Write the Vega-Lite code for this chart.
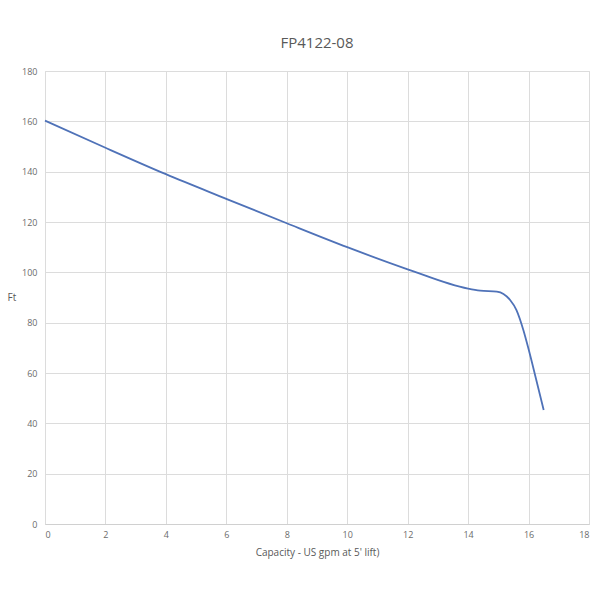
{
  "$schema": "https://vega.github.io/schema/vega-lite/v6.json",
  "autosize": "none",
  "width": 544,
  "height": 453,
  "padding": {"left": 45, "top": 71, "right": 11, "bottom": 76},
  "background": "white",
  "title": {"text": "FP4122-08", "font": "Open Sans", "fontSize": 15, "fontWeight": "normal", "color": "#595959", "offset": 16, "anchor": "middle"},
  "config": {
    "view": {"stroke": "#d9d9d9"},
    "axis": {"labelFont": "Open Sans", "titleFont": "Open Sans", "labelColor": "#6b6b6b", "titleColor": "#595959", "labelFontSize": 9, "titleFontSize": 10, "titleFontWeight": "normal", "gridColor": "#dcdcdc", "domainColor": "#d0d0d0", "tickColor": "#d9d9d9"}
  },
  "data": {"values": [
    {"x": 0, "y": 160.3},
    {"x": 2, "y": 149.5},
    {"x": 4, "y": 139.0},
    {"x": 6, "y": 129.2},
    {"x": 8, "y": 119.5},
    {"x": 10, "y": 110.0},
    {"x": 12, "y": 101.2},
    {"x": 14, "y": 93.5},
    {"x": 14.4, "y": 92.7},
    {"x": 14.95, "y": 92.3},
    {"x": 15.17, "y": 91.4},
    {"x": 15.39, "y": 89.0},
    {"x": 15.6, "y": 85.0},
    {"x": 15.83, "y": 77.0},
    {"x": 16.0, "y": 69.5},
    {"x": 16.25, "y": 57.5},
    {"x": 16.5, "y": 45.3}
  ]},
  "mark": {"type": "line", "interpolate": "monotone", "color": "#4f72b8", "strokeWidth": 1.8},
  "encoding": {
    "x": {"field": "x", "type": "quantitative", "scale": {"domain": [0, 18], "nice": false},
      "axis": {"values": [0,2,4,6,8,10,12,14,16,18], "title": "Capacity - US gpm at 5' lift)", "titlePadding": 8, "labelPadding": 6, "ticks": false, "domain": true}},
    "y": {"field": "y", "type": "quantitative", "scale": {"domain": [0, 180], "nice": false},
      "axis": {"values": [0,20,40,60,80,100,120,140,160,180], "title": "Ft", "titleAngle": 0, "titleX": -38, "titleY": 231, "titleAlign": "left", "ticks": false, "domain": false, "labelPadding": 8}}
  }
}
